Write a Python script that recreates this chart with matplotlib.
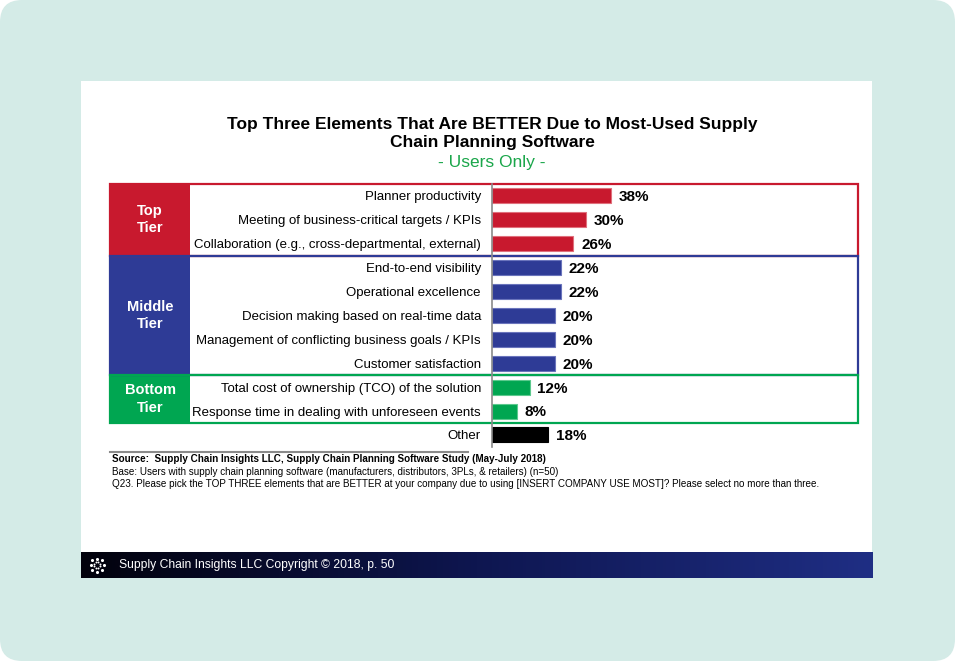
import matplotlib
matplotlib.use("Agg")
import matplotlib.pyplot as plt
import numpy as np
from matplotlib import font_manager
from matplotlib.colors import LinearSegmentedColormap
from matplotlib.patches import Rectangle, FancyBboxPatch

CATEGORIES = [
    "Planner productivity",
    "Meeting of business-critical targets / KPIs",
    "Collaboration (e.g., cross-departmental, external)",
    "End-to-end visibility",
    "Operational excellence",
    "Decision making based on real-time data",
    "Management of conflicting business goals / KPIs",
    "Customer satisfaction",
    "Total cost of ownership (TCO) of the solution",
    "Response time in dealing with unforeseen events",
    "Other",
]
VALUES = [38, 30, 26, 22, 22, 20, 20, 20, 12, 8, 18]
TIERS = ["top"] * 3 + ["middle"] * 5 + ["bottom"] * 2 + ["other"]
TIER_NAMES = {"top": "Top\nTier", "middle": "Middle\nTier", "bottom": "Bottom\nTier"}
TIER_COLORS = {"top": "#c8192e", "middle": "#2e3b96", "bottom": "#00a651", "other": "#000000"}
TIER_EDGES = {"top": "#e0707c", "middle": "#6a74bc", "bottom": "#5cc98e", "other": "#000000"}

W, H = 955, 661

names = {f.name for f in font_manager.fontManager.ttflist}
NARROW = "Liberation Sans Narrow" if "Liberation Sans Narrow" in names else "Liberation Sans"
SANS = "Liberation Sans"

fig = plt.figure(figsize=(W / 100, H / 100), dpi=100)
fig.patch.set_facecolor("white")

bg = fig.add_axes([0, 0, 1, 1])
bg.set_xlim(0, W)
bg.set_ylim(H, 0)
bg.axis("off")

bg.add_patch(FancyBboxPatch((0, 0), W, H, boxstyle="round,pad=0,rounding_size=22",
                            fc="#d4ebe7", ec="none"))
bg.add_patch(Rectangle((81, 81), 791, 497, fc="white", ec="none"))

# footer bar with gradient
grad = np.linspace(0, 1, 256).reshape(1, -1)
cmap = LinearSegmentedColormap.from_list("foot", ["#02020c", "#0e1650", "#1f2e84"])
bg.imshow(grad, extent=(81, 872, 578, 552), cmap=cmap, aspect="auto", zorder=2)
bg.text(119, 565, "Supply Chain Insights LLC Copyright \u00a9 2018, p. 50", color="white",
        fontsize=8.7, family=SANS, va="center", ha="left", zorder=3)
ang = np.linspace(0, 2 * np.pi, 9)[:-1]
bg.scatter(97 + 6.5 * np.cos(ang), 565 + 6.5 * np.sin(ang), s=5, c="white", zorder=3, lw=0)
bg.scatter(97 + 3 * np.cos(ang + 0.4), 565 + 3 * np.sin(ang + 0.4), s=2, c="white", zorder=3, lw=0)

# titles
bg.text(492, 124, "Top Three Elements That Are BETTER Due to Most-Used Supply", ha="center",
        va="center", fontsize=12.5, fontweight="bold", family=NARROW)
bg.text(492, 143, "Chain Planning Software", ha="center", va="center", fontsize=12.5,
        fontweight="bold", family=NARROW)
bg.text(492, 163, "- Users Only -", ha="center", va="center", fontsize=12.5,
        color="#1aa64a", family=NARROW)

# layout of rows in pixels
TOP, ROW = 184, 23.9
AX_L, AX_R = 492, 858
PX_PER = 3.13


def row_edge(i):
    return TOP + i * ROW


# tier boxes
start = 0
for tier in ["top", "middle", "bottom"]:
    n = TIERS.count(tier)
    y0, y1 = row_edge(start), row_edge(start + n)
    bg.add_patch(Rectangle((110, y0), 80, y1 - y0, fc=TIER_COLORS[tier], ec="none", zorder=1))
    bg.add_patch(Rectangle((110, y0), AX_R - 110, y1 - y0, fc="none", ec=TIER_COLORS[tier],
                           lw=1.6, zorder=4))
    bg.text(150, (y0 + y1) / 2, TIER_NAMES[tier], color="white", ha="center", va="center",
            fontsize=10.5, fontweight="bold", family=SANS, linespacing=1.3, zorder=5)
    start += n

# source notes
bottom_px = row_edge(len(CATEGORIES))
bg.plot([110, 468], [452, 452], color="#8a8a8a", lw=1.5)
bg.text(112, 459, "Source:  Supply Chain Insights LLC, Supply Chain Planning Software Study (May-July 2018)",
        fontsize=7.1, fontweight="bold", family=NARROW, va="center")
bg.text(112, 472, "Base: Users with supply chain planning software (manufacturers, distributors, 3PLs, & retailers) (n=50)",
        fontsize=7.1, family=NARROW, va="center")
bg.text(112, 484, "Q23. Please pick the TOP THREE elements that are BETTER at your company due to using "
        "[INSERT COMPANY USE MOST]? Please select no more than three.",
        fontsize=7.1, family=NARROW, va="center")

# bar axes
ax = fig.add_axes([AX_L / W, 1 - bottom_px / H, (AX_R - AX_L) / W, (bottom_px - TOP) / H])
ax.patch.set_alpha(0)
y = np.arange(len(CATEGORIES))
ax.barh(y, VALUES, height=0.63, color=[TIER_COLORS[t] for t in TIERS],
        edgecolor=[TIER_EDGES[t] for t in TIERS], linewidth=0.8)
for yi, v in zip(y, VALUES):
    ax.text(v + 2.5, yi + 0.06, f"{v}%", va="center", ha="left", fontsize=11,
            fontweight="bold", family=SANS)
ax.set_xlim(0, (AX_R - AX_L) / PX_PER)
ax.set_ylim(len(CATEGORIES) - 0.5, -0.5)
ax.set_yticks(y)
ax.set_yticklabels(CATEGORIES, fontsize=9.5, family=SANS)
ax.tick_params(axis="y", length=0, pad=8)
ax.set_xticks([])
for s in ["top", "right", "bottom"]:
    ax.spines[s].set_visible(False)
ax.spines["left"].set_color("#8a8a8a")
ax.spines["left"].set_linewidth(1.2)

fig.savefig("out.png", dpi=100)
